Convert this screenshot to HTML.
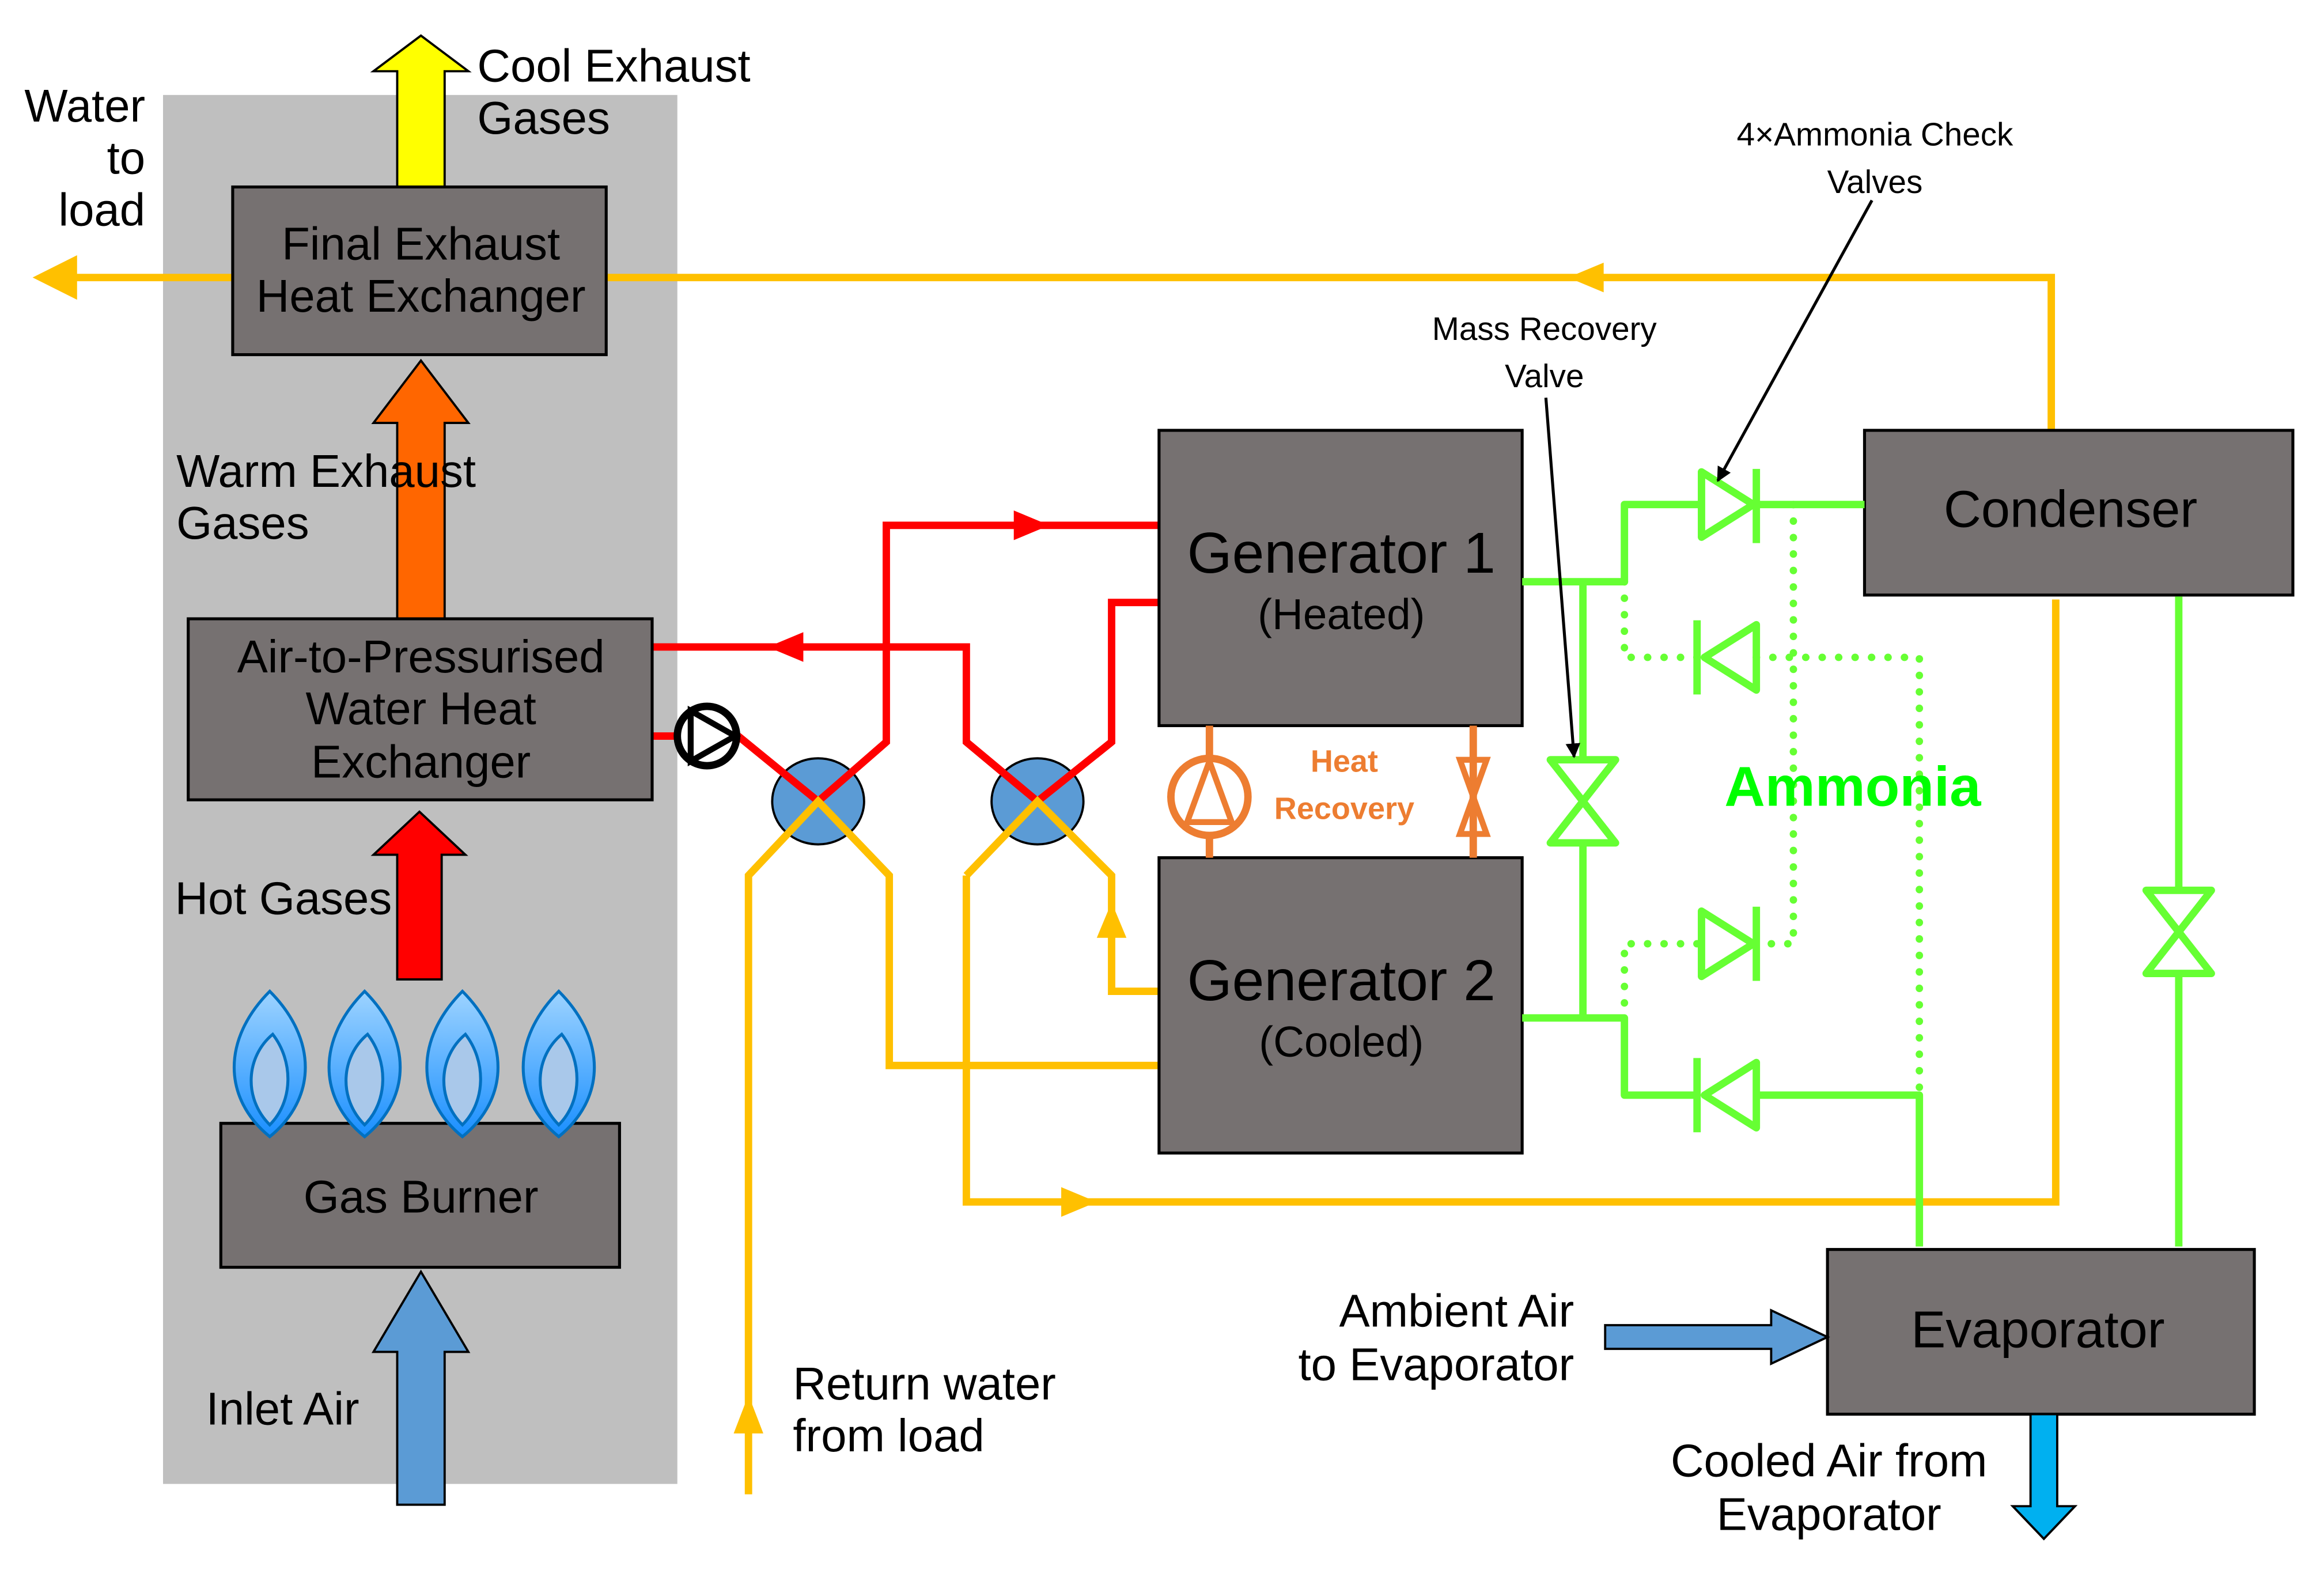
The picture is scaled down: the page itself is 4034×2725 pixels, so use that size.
<!DOCTYPE html>
<html><head><meta charset="utf-8"><style>html,body{margin:0;padding:0;background:#fff}svg{display:block}</style></head><body>
<svg width="4034" height="2725" viewBox="0 0 1568 1058" preserveAspectRatio="none" xmlns="http://www.w3.org/2000/svg" font-family="Liberation Sans, Arial, sans-serif">
<defs>
<linearGradient id="fl" x1="0" y1="0" x2="0" y2="1"><stop offset="0" stop-color="#9dd3ff"/><stop offset="1" stop-color="#1a8fff"/></linearGradient>
<marker id="ah" markerWidth="10" markerHeight="10" refX="9" refY="5" orient="auto" markerUnits="userSpaceOnUse"><path d="M0,0 L10,5 L0,10Z" fill="#000"/></marker>
</defs>
<rect x="110" y="64" width="347" height="936" fill="#bfbfbf"/>

<path d="M268,126 V48 H252 L284,24 L316,48 H300 V126Z" fill="#ffff00" stroke="#000" stroke-width="1.5"/>
<path d="M268,418 V285 H252 L284,243 L316,285 H300 V418Z" fill="#ff6600" stroke="#000" stroke-width="1.5"/>
<path d="M268,660 V576 H252 L283,547 L314,576 H298 V660Z" fill="#ff0000" stroke="#000" stroke-width="1.5"/>
<path d="M268,1014 V911 H252 L284,857 L316,911 H300 V1014Z" fill="#5b9bd5" stroke="#000" stroke-width="1.5"/>

<g font-size="31" fill="#000">
<text x="322" y="55">Cool Exhaust</text><text x="322" y="90">Gases</text>
<text x="98" y="82" text-anchor="end">Water</text><text x="98" y="117" text-anchor="end">to</text><text x="98" y="152" text-anchor="end">load</text>
<text x="119" y="328">Warm Exhaust</text><text x="119" y="363">Gases</text>
<text x="118" y="616">Hot Gases</text>
<text x="139" y="960">Inlet Air</text>
<text x="535" y="943">Return water</text><text x="535" y="978">from load</text>
<text x="1062" y="894" text-anchor="end">Ambient Air</text><text x="1062" y="930" text-anchor="end">to Evaporator</text>
<text x="1234" y="995" text-anchor="middle">Cooled Air from</text><text x="1234" y="1031" text-anchor="middle">Evaporator</text>
</g>

<g fill="none" stroke="#ffc000" stroke-width="5">
<path d="M157,187 H40"/>
<path d="M409,187 H1384 V290"/>
<path d="M505,1007 V590 L552,540 L600,590 V718 H782"/>
<path d="M652,590 V810 H1387 V404"/>
<path d="M652,590 L700,540 L750,590 V668 H782"/>
</g>
<g fill="#ffc000">
<path d="M22,187 L52,172 L52,202Z"/>
<path d="M1058,187 L1082,177 L1082,197Z"/>
<path d="M740,810 L716,800 L716,820Z"/>
<path d="M505,940 L495,966 L515,966Z"/>
<path d="M750,608 L740,632 L760,632Z"/>
</g>

<g fill="none" stroke="#ff0000" stroke-width="5">
<path d="M440,496 H456"/>
<path d="M498,496 L552,540 L598,500 V354 H782"/>
<path d="M440,436 H652 V500 L700,540 L750,500 V406 H782"/>
</g>
<g fill="#ff0000">
<path d="M708,354 L684,344 L684,364Z"/>
<path d="M518,436 L542,426 L542,446Z"/>
</g>
<g stroke="#000" stroke-width="1.5" fill="#5b9bd5">
<ellipse cx="552" cy="540" rx="31" ry="29"/><ellipse cx="700" cy="540" rx="31" ry="29"/>
</g>
<g fill="none" stroke-width="5">
<path d="M498,496 L552,540 L598,500" stroke="#ff0000"/>
<path d="M652,500 L700,540 L750,500" stroke="#ff0000"/>
<path d="M505,590 L552,540 L600,590" stroke="#ffc000"/>
<path d="M652,590 L700,540 L750,590" stroke="#ffc000"/>
</g>
<circle cx="477" cy="496" r="20" fill="#fff" stroke="#000" stroke-width="5"/>
<path d="M466,479 L496,496 L466,513Z" fill="none" stroke="#000" stroke-width="4"/>

<g fill="#767171" stroke="#000" stroke-width="2">
<rect x="157" y="126" width="252" height="113"/>
<rect x="127" y="417" width="313" height="122"/>
<rect x="149" y="757" width="269" height="97"/>
<rect x="782" y="290" width="245" height="199"/>
<rect x="782" y="578" width="245" height="199"/>
<rect x="1258" y="290" width="289" height="111"/>
<rect x="1233" y="842" width="288" height="111"/>
</g>
<g font-size="31" fill="#000" text-anchor="middle">
<text x="284" y="175">Final Exhaust</text><text x="284" y="210">Heat Exchanger</text>
<text x="284" y="453">Air-to-Pressurised</text><text x="284" y="488">Water Heat</text><text x="284" y="524">Exchanger</text>
<text x="284" y="817">Gas Burner</text>
<text x="905" y="386" font-size="39">Generator 1</text><text x="905" y="424" font-size="29">(Heated)</text>
<text x="905" y="674" font-size="39">Generator 2</text><text x="905" y="712" font-size="29">(Cooled)</text>
<text x="1397" y="355" font-size="35">Condenser</text>
<text x="1375" y="908" font-size="35">Evaporator</text>
</g>

<g stroke="#0070c0" stroke-width="2">
<g id="f"><path d="M182,766 C150,740 150,700 182,668 C214,700 214,740 182,766Z" fill="url(#fl)"/><path d="M182,758 C164,740 166,712 184,697 C198,715 198,742 182,758Z" fill="#a9c8ea"/></g>
<use href="#f" x="64"/><use href="#f" x="130"/><use href="#f" x="195"/>
</g>

<g stroke="#ed7d31" stroke-width="5" fill="none">
<path d="M816,489 V510 M816,564 V578"/>
<circle cx="816" cy="537" r="26"/>
<path d="M816,513 L801,554 H831Z" stroke-width="4"/>
<path d="M994,489 V578"/>
<path d="M985,512 H1003 L994,537Z M985,562 H1003 L994,537Z" stroke-width="4"/>
</g>
<g font-size="21" font-weight="bold" fill="#ed7d31" text-anchor="middle"><text x="907" y="520">Heat</text><text x="907" y="552">Recovery</text></g>

<g stroke="#66ff33" stroke-width="5" fill="none" stroke-linejoin="round">
<path d="M1027,392 H1096 V340 H1148 M1185,340 H1258"/>
<path d="M1068,392 V512 M1068,568 V686"/>
<path d="M1027,686 H1096 V738 H1145 M1185,738 H1295 V840"/>
<path d="M1470,402 V600 M1470,656 V840"/>
<path d="M1046,512 H1090 L1046,568 H1090Z"/>
<path d="M1448,600 H1492 L1448,656 H1492Z"/>
<path d="M1148,318 L1183,340 L1148,362Z M1185,316 V366"/>
<path d="M1185,421 L1150,443 L1185,465Z M1145,418 V468"/>
<path d="M1148,614 L1183,636 L1148,658Z M1185,611 V661"/>
<path d="M1185,716 L1150,738 L1185,760Z M1145,713 V763"/>
</g>
<g stroke="#66ff33" stroke-width="5" fill="none" stroke-dasharray="0.1 11" stroke-linecap="round">
<path d="M1096,392 V443 H1145"/>
<path d="M1185,443 H1295 V738"/>
<path d="M1210,340 V636 H1185"/>
<path d="M1145,636 H1096 V686"/>
</g>
<text x="1250" y="543" font-size="38" font-weight="bold" fill="#00ff00" text-anchor="middle">Ammonia</text>

<g font-size="22" fill="#000" text-anchor="middle">
<text x="1265" y="98">4×Ammonia Check</text><text x="1265" y="130">Valves</text>
<text x="1042" y="229">Mass Recovery</text><text x="1042" y="261">Valve</text>
</g>
<g stroke="#000" stroke-width="2" marker-end="url(#ah)">
<line x1="1263" y1="135" x2="1159" y2="324"/>
<line x1="1043" y1="268" x2="1062" y2="510"/>
</g>

<path d="M1083,893 H1195 V883 L1233,901 L1195,919 V909 H1083Z" fill="#5b9bd5" stroke="#000" stroke-width="1.5"/>
<path d="M1370,953 V1015 H1358 L1379,1037 L1400,1015 H1388 V953Z" fill="#00b0f0" stroke="#000" stroke-width="1.5"/>
</svg>
</body></html>
